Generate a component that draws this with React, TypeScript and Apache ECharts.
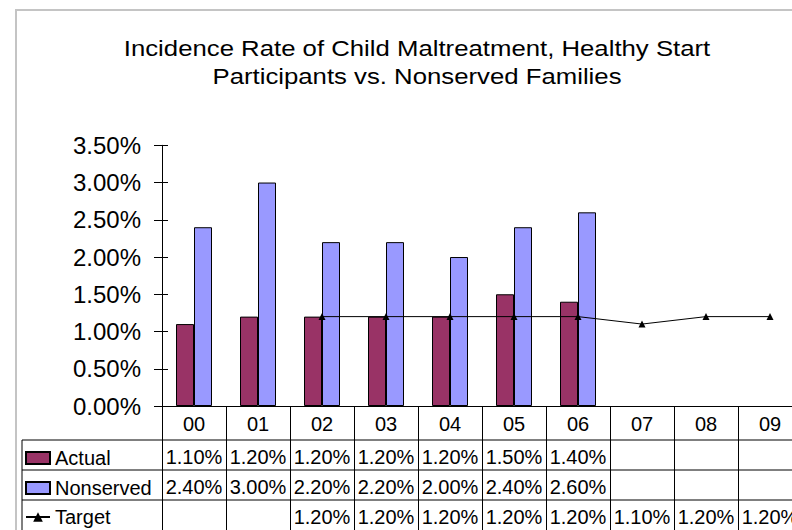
import React, { useEffect, useRef } from 'react';
import * as echarts from 'echarts';

const categories = ['00', '01', '02', '03', '04', '05', '06', '07', '08', '09'];
const actual: (number | null)[] = [1.1, 1.2, 1.2, 1.2, 1.2, 1.5, 1.4, null, null, null];
const nonserved: (number | null)[] = [2.4, 3.0, 2.2, 2.2, 2.0, 2.4, 2.6, null, null, null];
const target: (number | null)[] = [null, null, 1.2, 1.2, 1.2, 1.2, 1.2, 1.1, 1.2, 1.2];
const yMin = 0;
const yMax = 3.5;
const yStep = 0.5;
const titleLines = ['Incidence Rate of Child Maltreatment, Healthy Start', 'Participants vs. Nonserved Families'];

const FONT = 'Liberation Sans, Arial, sans-serif';
const fmt = (v: number | null) => (v == null ? '' : v.toFixed(2) + '%');

export default function App() {
  const ref = useRef<HTMLDivElement>(null);
  useEffect(() => {
    if (!ref.current) return;
    const chart = echarts.init(ref.current, undefined, { renderer: 'svg' });
    const tableAxis = (vals: (number | null)[], margin: number) => ({
      type: 'category',
      data: categories,
      gridIndex: 0,
      position: 'bottom',
      offset: 0,
      axisLine: { show: false },
      axisTick: { show: false },
      splitLine: { show: false },
      axisLabel: {
        interval: 0,
        margin,
        verticalAlign: 'middle',
        fontSize: 20,
        color: '#000',
        fontFamily: FONT,
        formatter: (_v: string, i: number) => fmt(vals[i]),
      },
    });
    const legendItem = (name: string, top: number, icon?: string) => ({
      data: icon ? [{ name, icon }] : [name],
      orient: 'vertical',
      left: 25,
      top,
      padding: 0,
      itemWidth: 24,
      itemHeight: 12,
      itemGap: 0,
      selectedMode: false,
      textStyle: { fontSize: 20, color: '#000', fontFamily: FONT },
    });
    chart.setOption({
      animation: false,
      textStyle: { fontFamily: FONT },
      grid: { left: 162, top: 145.3, right: 8, bottom: 124, containLabel: false },
      legend: [legendItem('Actual', 448, 'rect'), legendItem('Nonserved', 478, 'rect'), legendItem('Target', 507)],
      xAxis: [
        {
          type: 'category',
          data: categories,
          position: 'bottom',
          axisLine: { show: true, lineStyle: { color: '#000', width: 1 } },
          axisTick: { show: true, interval: 0, length: 124, lineStyle: { color: '#000', width: 1 } },
          splitLine: { show: false },
          axisLabel: { interval: 0, margin: 18, verticalAlign: 'middle', fontSize: 20, color: '#000', fontFamily: FONT },
        },
        tableAxis(actual, 51),
        tableAxis(nonserved, 80.5),
        tableAxis(target, 110.5),
      ],
      yAxis: [
        {
          type: 'value',
          min: yMin,
          max: yMax,
          interval: yStep,
          axisLine: { show: true, lineStyle: { color: '#000', width: 1 } },
          axisTick: { show: true, inside: false, length: 8, lineStyle: { color: '#000' } },
          splitLine: { show: false },
          axisLabel: { margin: 21, fontSize: 24, color: '#000', fontFamily: FONT, formatter: (v: number) => v.toFixed(2) + '%' },
        },
        {
          type: 'value',
          min: yMin,
          max: yMax,
          interval: yStep,
          position: 'left',
          axisLine: { show: false },
          axisTick: { show: true, inside: true, length: 6, lineStyle: { color: '#000' } },
          splitLine: { show: false },
          axisLabel: { show: false },
        },
      ],
      series: [
        {
          name: 'Actual',
          type: 'bar',
          data: actual,
          barWidth: 18,
          barGap: '0%',
          itemStyle: { color: '#993366', borderColor: '#000', borderWidth: 1 },
        },
        {
          name: 'Nonserved',
          type: 'bar',
          data: nonserved,
          barWidth: 18,
          barGap: '0%',
          itemStyle: { color: '#9999FF', borderColor: '#000', borderWidth: 1 },
        },
        {
          name: 'Target',
          type: 'line',
          data: target,
          symbol: 'triangle',
          symbolSize: 7,
          connectNulls: false,
          itemStyle: { color: '#000' },
          lineStyle: { color: '#000', width: 1 },
          z: 5,
        },
      ],
      graphic: [
        {
          type: 'rect',
          shape: { x: 16, y: 10, width: 820, height: 560 },
          style: { fill: 'none', stroke: '#c4c4c4', lineWidth: 2 },
          silent: true,
        },
        {
          type: 'text',
          x: 417,
          y: 62,
          scaleX: 1.17,
          style: {
            text: titleLines.join('\n'),
            fontSize: 22,
            fontFamily: FONT,
            fill: '#000',
            align: 'center',
            verticalAlign: 'middle',
            lineHeight: 28,
          },
        },
        { type: 'line', shape: { x1: 22, y1: 440, x2: 810, y2: 440 }, style: { stroke: '#000', lineWidth: 1 } },
        { type: 'line', shape: { x1: 22, y1: 470, x2: 810, y2: 470 }, style: { stroke: '#000', lineWidth: 1 } },
        { type: 'line', shape: { x1: 22, y1: 500, x2: 810, y2: 500 }, style: { stroke: '#000', lineWidth: 1 } },
        { type: 'line', shape: { x1: 22, y1: 440, x2: 22, y2: 540 }, style: { stroke: '#000', lineWidth: 1 } },
      ],
    });
    return () => chart.dispose();
  }, []);
  return (
    <div style={{ position: 'fixed', left: 0, top: 0, width: 792, height: 530, overflow: 'hidden', background: '#fff' }}>
      <div ref={ref} style={{ width: 810, height: 530 }} />
    </div>
  );
}
